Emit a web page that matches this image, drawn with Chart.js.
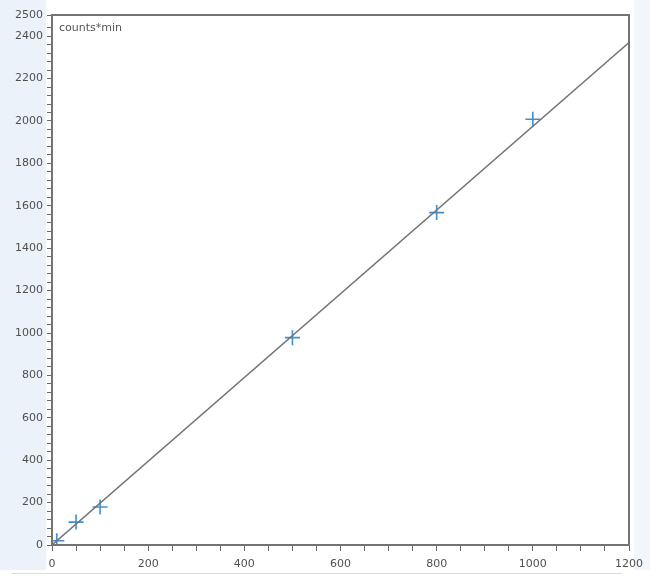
<!DOCTYPE html>
<html>
<head>
<meta charset="utf-8">
<script src="https://cdn.jsdelivr.net/npm/chart.js@4"></script>
<style>
  body { margin: 0; background: #fff; }
  #wrap { width: 650px; height: 588px; }
</style>
</head>
<body>
<div id="wrap"><canvas id="myChart" width="650" height="588"></canvas></div>
<script>
// calibration standards
const conc = [10, 50, 100, 500, 800, 1000];
const area = [20, 108, 179, 978, 1568, 2008];
// calibration line end points
const fitX = [0, 1200];
const fitY = [0, 2370];
const yLabelExtra = [2500];

const points = conc.map((x, i) => ({ x: x, y: area[i] }));
const fitLine = fitX.map((x, i) => ({ x: x, y: fitY[i] }));

const decor = {
    id: 'decor',
    beforeDraw(chart) {
        const c = chart.ctx;
        c.save();
        c.fillStyle = '#ecf2fa';
        c.fillRect(0, 0, 46, 570);
        c.fillStyle = '#f2f6fb';
        c.fillRect(634, 0, 16, 570);
        c.fillStyle = '#d8dce2';
        c.fillRect(12, 573, 610, 1);
        c.restore();
    },
    afterDraw(chart) {
        const a = chart.chartArea;
        const c = chart.ctx;
        c.save();
        c.strokeStyle = '#737373';
        c.lineWidth = 2;
        c.strokeRect(a.left, a.top, a.right - a.left, a.bottom - a.top);
        c.fillStyle = '#555';
        c.font = '11px "DejaVu Sans", sans-serif';
        c.textBaseline = 'top';
        c.fillText('counts*min', a.left + 7, a.top + 8);
        c.restore();
    }
};

const ctx = document.getElementById('myChart').getContext('2d');
const myChart = new Chart(ctx, {
    type: 'scatter',
    data: {
        datasets: [{
            type: 'line',
            data: fitLine,
            borderColor: '#747474',
            borderWidth: 1.5,
            pointRadius: 0,
            fill: false
        }, {
            data: points,
            pointStyle: 'cross',
            pointRadius: 7.5,
            borderWidth: 1.6,
            borderColor: '#3f8fd2',
            backgroundColor: '#3f8fd2'
        }]
    },
    plugins: [decor],
    options: {
        responsive: false,
        animation: false,
        layout: { padding: { top: 15, right: 20, bottom: 10, left: 0 } },
        plugins: {
            legend: { display: false },
            tooltip: { enabled: false }
        },
        scales: {
            x: {
                type: 'linear',
                min: 0,
                max: 1200,
                afterFit: s => { s.height = 33; },
                border: { display: false },
                grid: {
                    drawOnChartArea: false,
                    tickLength: 6,
                    color: '#666'
                },
                ticks: {
                    stepSize: 50,
                    autoSkip: false,
                    maxRotation: 0,
                    color: '#505050',
                    padding: 7,
                    font: { family: 'DejaVu Sans', size: 11 },
                    callback: v => (v % 200 === 0 ? v : '')
                }
            },
            y: {
                type: 'linear',
                min: 0,
                max: 2500,
                afterFit: s => { s.width = 52; },
                border: { display: false },
                grid: {
                    drawOnChartArea: false,
                    tickLength: 5,
                    color: '#666'
                },
                ticks: {
                    stepSize: 40,
                    autoSkip: false,
                    color: '#505050',
                    padding: 4,
                    font: { family: 'DejaVu Sans', size: 11 },
                    callback: v => (v % 200 === 0 || yLabelExtra.includes(v) ? v : '')
                }
            }
        }
    }
});
</script>
</body>
</html>
